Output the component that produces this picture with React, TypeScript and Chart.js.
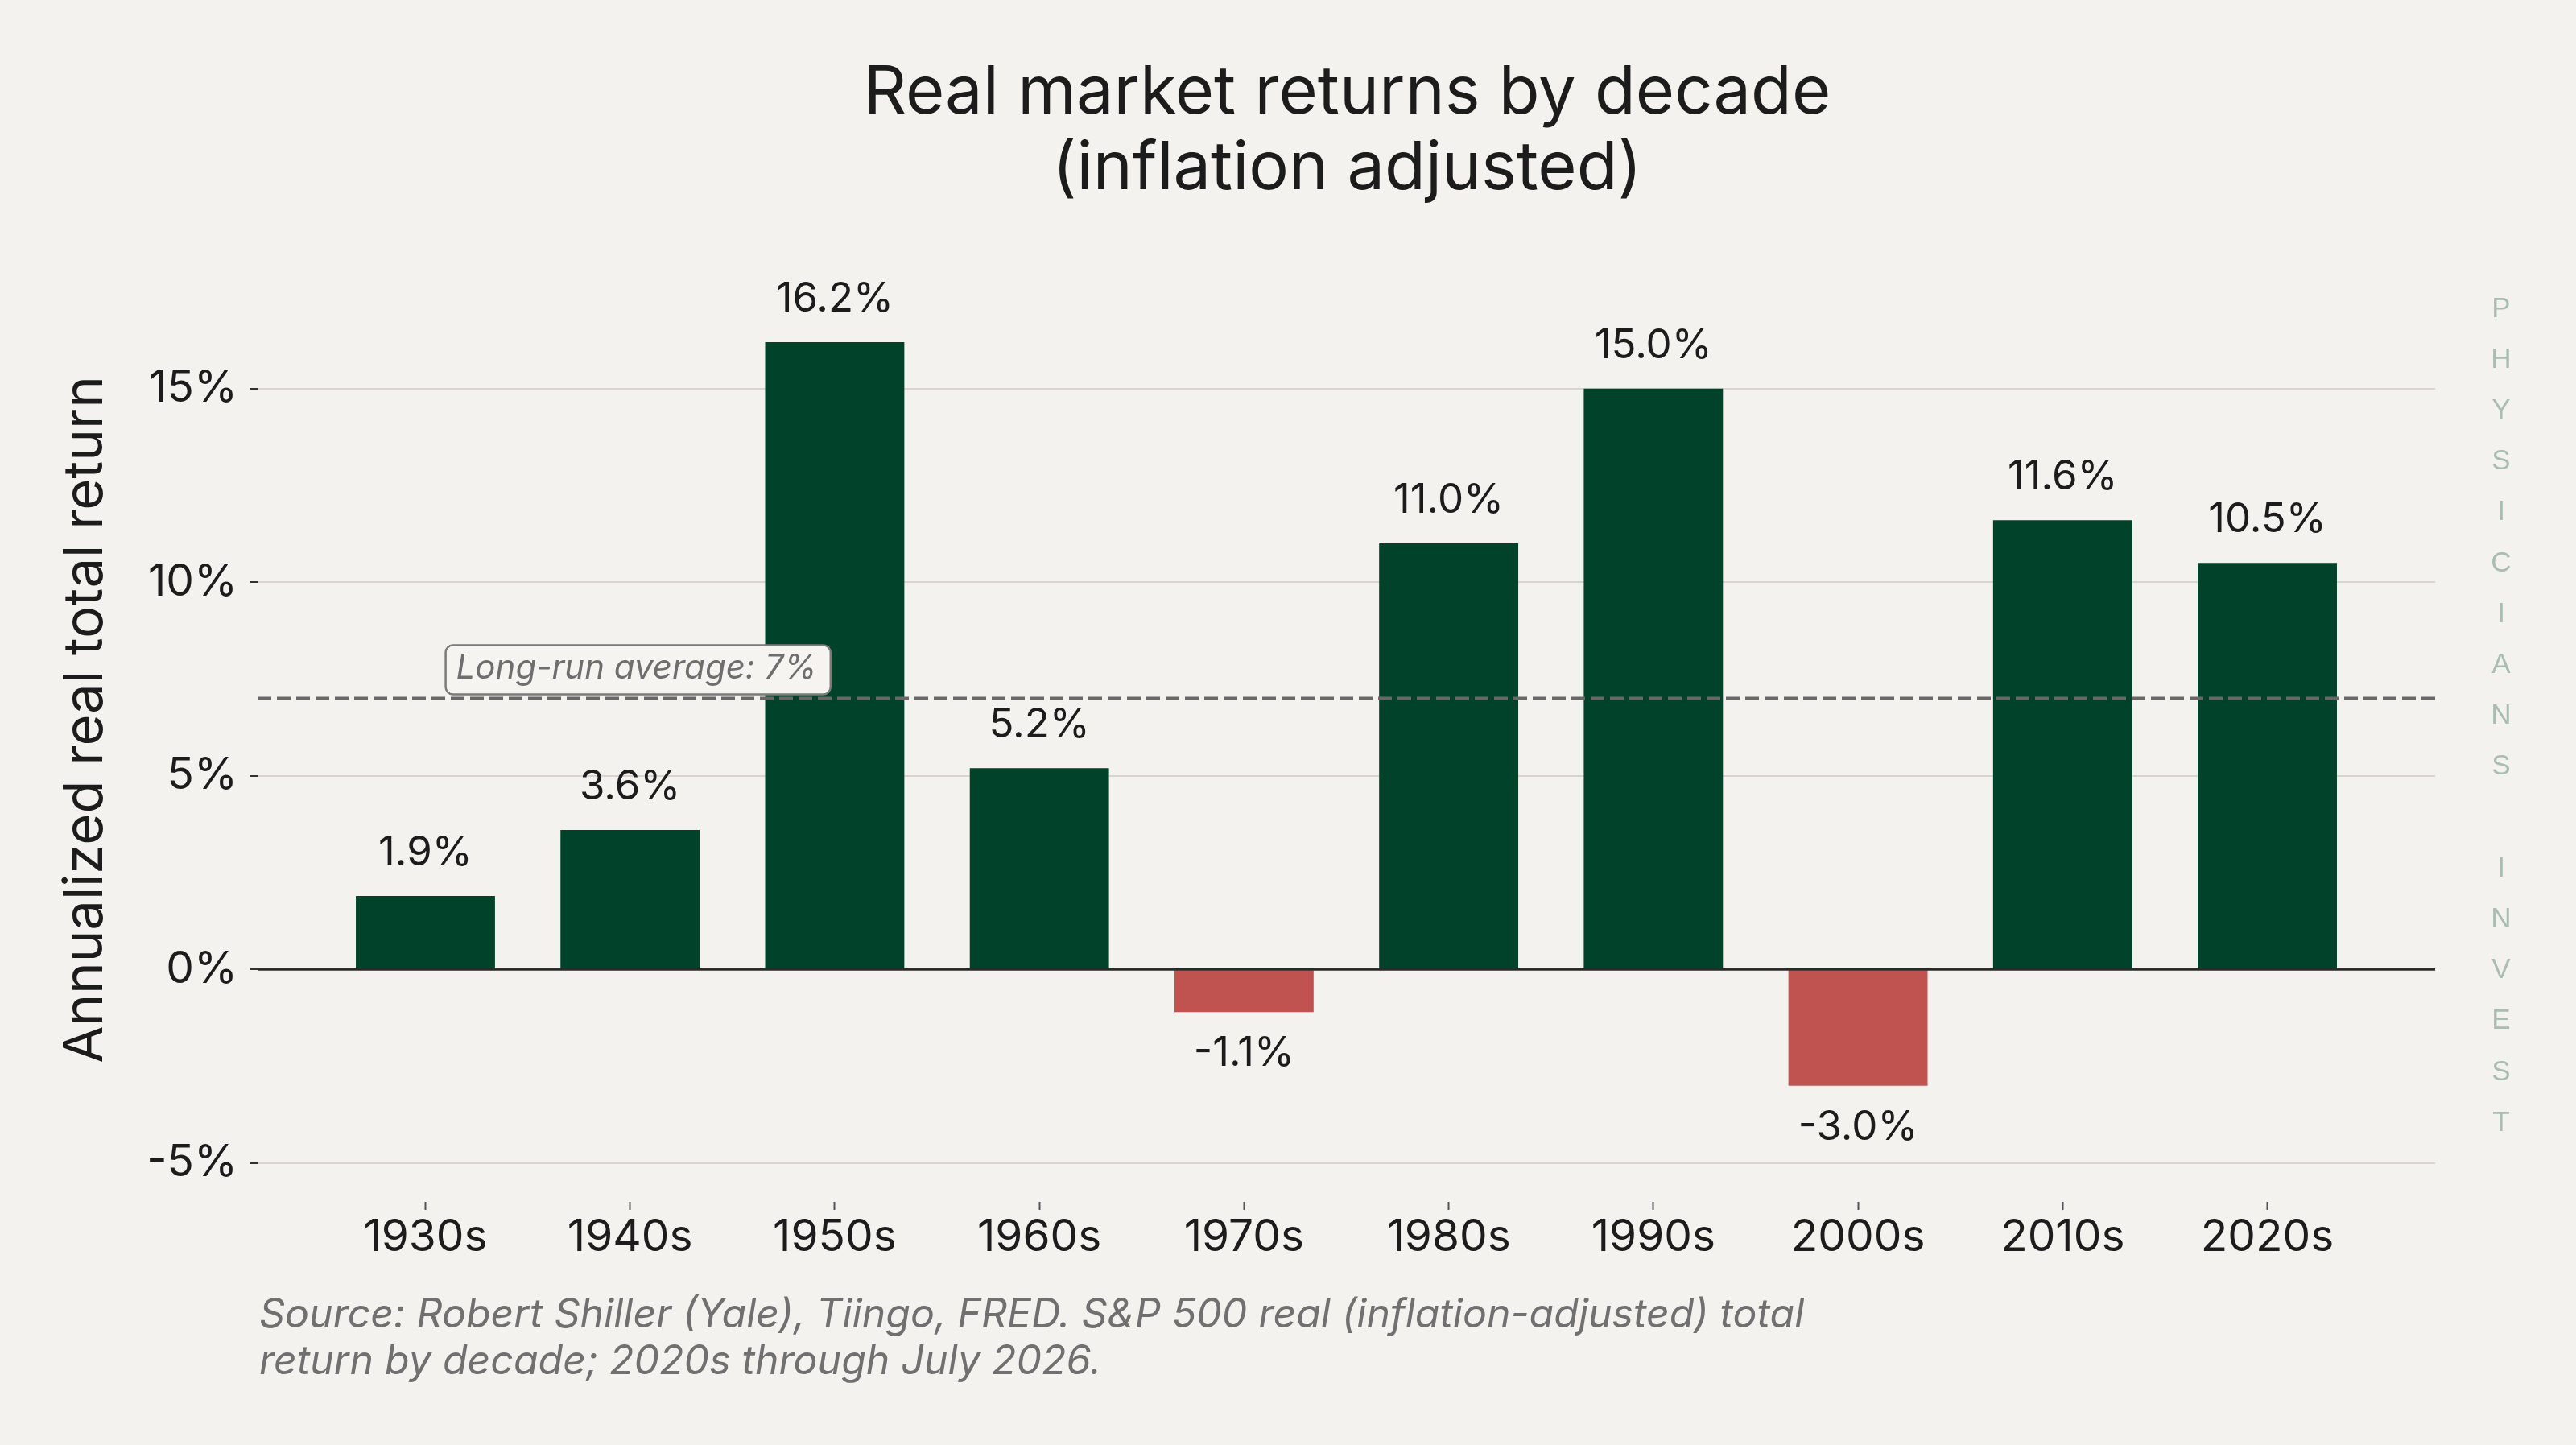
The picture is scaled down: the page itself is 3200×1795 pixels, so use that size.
import { useEffect, useRef } from 'react';
import { Chart, registerables, ChartConfiguration, Plugin } from 'chart.js';

Chart.register(...registerables);

const decades = ['1930s', '1940s', '1950s', '1960s', '1970s', '1980s', '1990s', '2000s', '2010s', '2020s'];
const realReturns = [1.9, 3.6, 16.2, 5.2, -1.1, 11.0, 15.0, -3.0, 11.6, 10.5];
const yTickValues = [-5, 0, 5, 10, 15];
const longRunAverage = 7;
const averageLabel = 'Long-run average: 7%';
const titleLines = ['Real market returns by decade', '(inflation adjusted)'];
const sourceLines = [
  'Source: Robert Shiller (Yale), Tiingo, FRED. S&P 500 real (inflation-adjusted) total',
  'return by decade; 2020s through July 2026.',
];
const watermark = 'PHYSICIANS INVEST';

const BG = '#f4f2ee';
const GREEN = '#00432a';
const RED = '#c0534f';
const INK = '#1c1c1c';
const FONT = 'Inter, "Noto Sans", sans-serif';

const decorations: Plugin<'bar'> = {
  id: 'decorations',
  beforeDraw(chart) {
    const { ctx, width, height } = chart;
    ctx.save();
    ctx.fillStyle = BG;
    ctx.fillRect(0, 0, width, height);
    ctx.restore();
  },
  afterDatasetsDraw(chart) {
    const { ctx, chartArea, scales } = chart;
    const x = scales.x;
    const y = scales.y;
    ctx.save();

    // zero line
    const y0 = y.getPixelForValue(0);
    ctx.strokeStyle = '#2a2a2a';
    ctx.lineWidth = 3;
    ctx.beginPath();
    ctx.moveTo(chartArea.left, y0);
    ctx.lineTo(chartArea.right, y0);
    ctx.stroke();

    // long-run average
    const yAvg = y.getPixelForValue(longRunAverage);
    ctx.strokeStyle = '#686868';
    ctx.lineWidth = 4;
    ctx.setLineDash([17, 7]);
    ctx.beginPath();
    ctx.moveTo(chartArea.left, yAvg);
    ctx.lineTo(chartArea.right, yAvg);
    ctx.stroke();
    ctx.setLineDash([]);

    // average label box
    ctx.font = `italic 42px ${FONT}`;
    const tx = x.getPixelForValue(0.15);
    const tb = yAvg - 25;
    const tw = ctx.measureText(averageLabel).width;
    const bx = tx - 13;
    const bw = tw + 30;
    const by = tb - 41;
    const bh = 61;
    ctx.beginPath();
    ctx.roundRect(bx, by, bw, bh, 9);
    ctx.fillStyle = '#f6f4f0';
    ctx.fill();
    ctx.strokeStyle = '#7a7a7a';
    ctx.lineWidth = 2.5;
    ctx.stroke();
    ctx.fillStyle = '#6e6e6e';
    ctx.textAlign = 'left';
    ctx.textBaseline = 'alphabetic';
    ctx.fillText(averageLabel, tx, tb);

    // value labels
    ctx.font = `51px ${FONT}`;
    ctx.fillStyle = INK;
    ctx.textAlign = 'center';
    const meta = chart.getDatasetMeta(0);
    meta.data.forEach((bar, i) => {
      const v = realReturns[i];
      const label = v.toFixed(1) + '%';
      const ly = v >= 0 ? bar.y - 38 : bar.y + 67;
      ctx.fillText(label, bar.x, ly);
    });
    ctx.restore();
  },
  afterDraw(chart) {
    const { ctx, chartArea } = chart;
    ctx.save();

    // title
    ctx.font = `83px ${FONT}`;
    ctx.fillStyle = INK;
    ctx.textAlign = 'center';
    ctx.textBaseline = 'alphabetic';
    const cx = (chartArea.left + chartArea.right) / 2 + 1;
    titleLines.forEach((line, i) => ctx.fillText(line, cx, 141 + i * 94));

    // source note
    ctx.font = `italic 50px ${FONT}`;
    ctx.fillStyle = '#707070';
    ctx.textAlign = 'left';
    sourceLines.forEach((line, i) => ctx.fillText(line, chartArea.left + 2, 1649 + i * 58));

    // watermark
    ctx.font = `35px "Liberation Sans", Arial, sans-serif`;
    ctx.fillStyle = '#a9bdb0';
    ctx.textAlign = 'center';
    ctx.textBaseline = 'middle';
    watermark.split('').forEach((ch, i) => {
      if (ch !== ' ') ctx.fillText(ch, 3107, 384 + i * 63.2);
    });
    ctx.restore();
  },
};

export default function App() {
  const canvasRef = useRef<HTMLCanvasElement>(null);

  useEffect(() => {
    document.body.style.margin = '0';
    document.body.style.background = BG;
    if (!canvasRef.current) return;

    const config: ChartConfiguration<'bar'> = {
      type: 'bar',
      data: {
        datasets: [
          {
            data: realReturns.map((v, i) => ({ x: i, y: v })),
            backgroundColor: realReturns.map((v) => (v < 0 ? RED : GREEN)),
            borderWidth: 0,
            barPercentage: 0.68,
            categoryPercentage: 1,
          },
        ],
      },
      options: {
        responsive: false,
        animation: false,
        devicePixelRatio: 1,
        layout: { padding: { left: 40, right: 175, top: 295, bottom: 172 } },
        plugins: {
          legend: { display: false },
          tooltip: { enabled: false },
          title: { display: false },
        },
        scales: {
          x: {
            type: 'linear',
            offset: false,
            min: -0.82,
            max: 9.82,
            afterBuildTicks: (scale) => {
              scale.ticks = decades.map((_, i) => ({ value: i }));
            },
            afterFit: (scale) => {
              scale.height = 130;
            },
            border: { display: false },
            grid: {
              offset: false,
              drawOnChartArea: false,
              tickLength: 10,
              tickColor: '#555',
              tickWidth: 2,
            },
            ticks: {
              padding: 7,
              color: INK,
              font: { family: FONT, size: 55, lineHeight: 1 },
              callback: (_v, index) => decades[index],
            },
          },
          y: {
            min: -6,
            max: 18.9,
            afterBuildTicks: (scale) => {
              scale.ticks = yTickValues.map((value) => ({ value }));
            },
            afterFit: (scale) => {
              scale.width = 280;
            },
            border: { display: false },
            grid: {
              color: '#d8d5cf',
              lineWidth: 2,
              tickLength: 10,
              tickColor: '#333',
              tickWidth: 2,
            },
            ticks: {
              padding: 15,
              color: INK,
              font: { family: FONT, size: 55 },
              callback: (v) => `${v}%`,
            },
            title: {
              display: true,
              text: 'Annualized real total return',
              color: INK,
              font: { family: FONT, size: 67, lineHeight: 1.2 },
              padding: { top: 27, bottom: 0 },
            },
          },
        },
      },
      plugins: [decorations],
    };

    const chart = new Chart(canvasRef.current, config);
    return () => chart.destroy();
  }, []);

  return (
    <div style={{ width: 3200, height: 1795 }}>
      <canvas ref={canvasRef} width={3200} height={1795} style={{ width: 3200, height: 1795, display: 'block' }} />
    </div>
  );
}
